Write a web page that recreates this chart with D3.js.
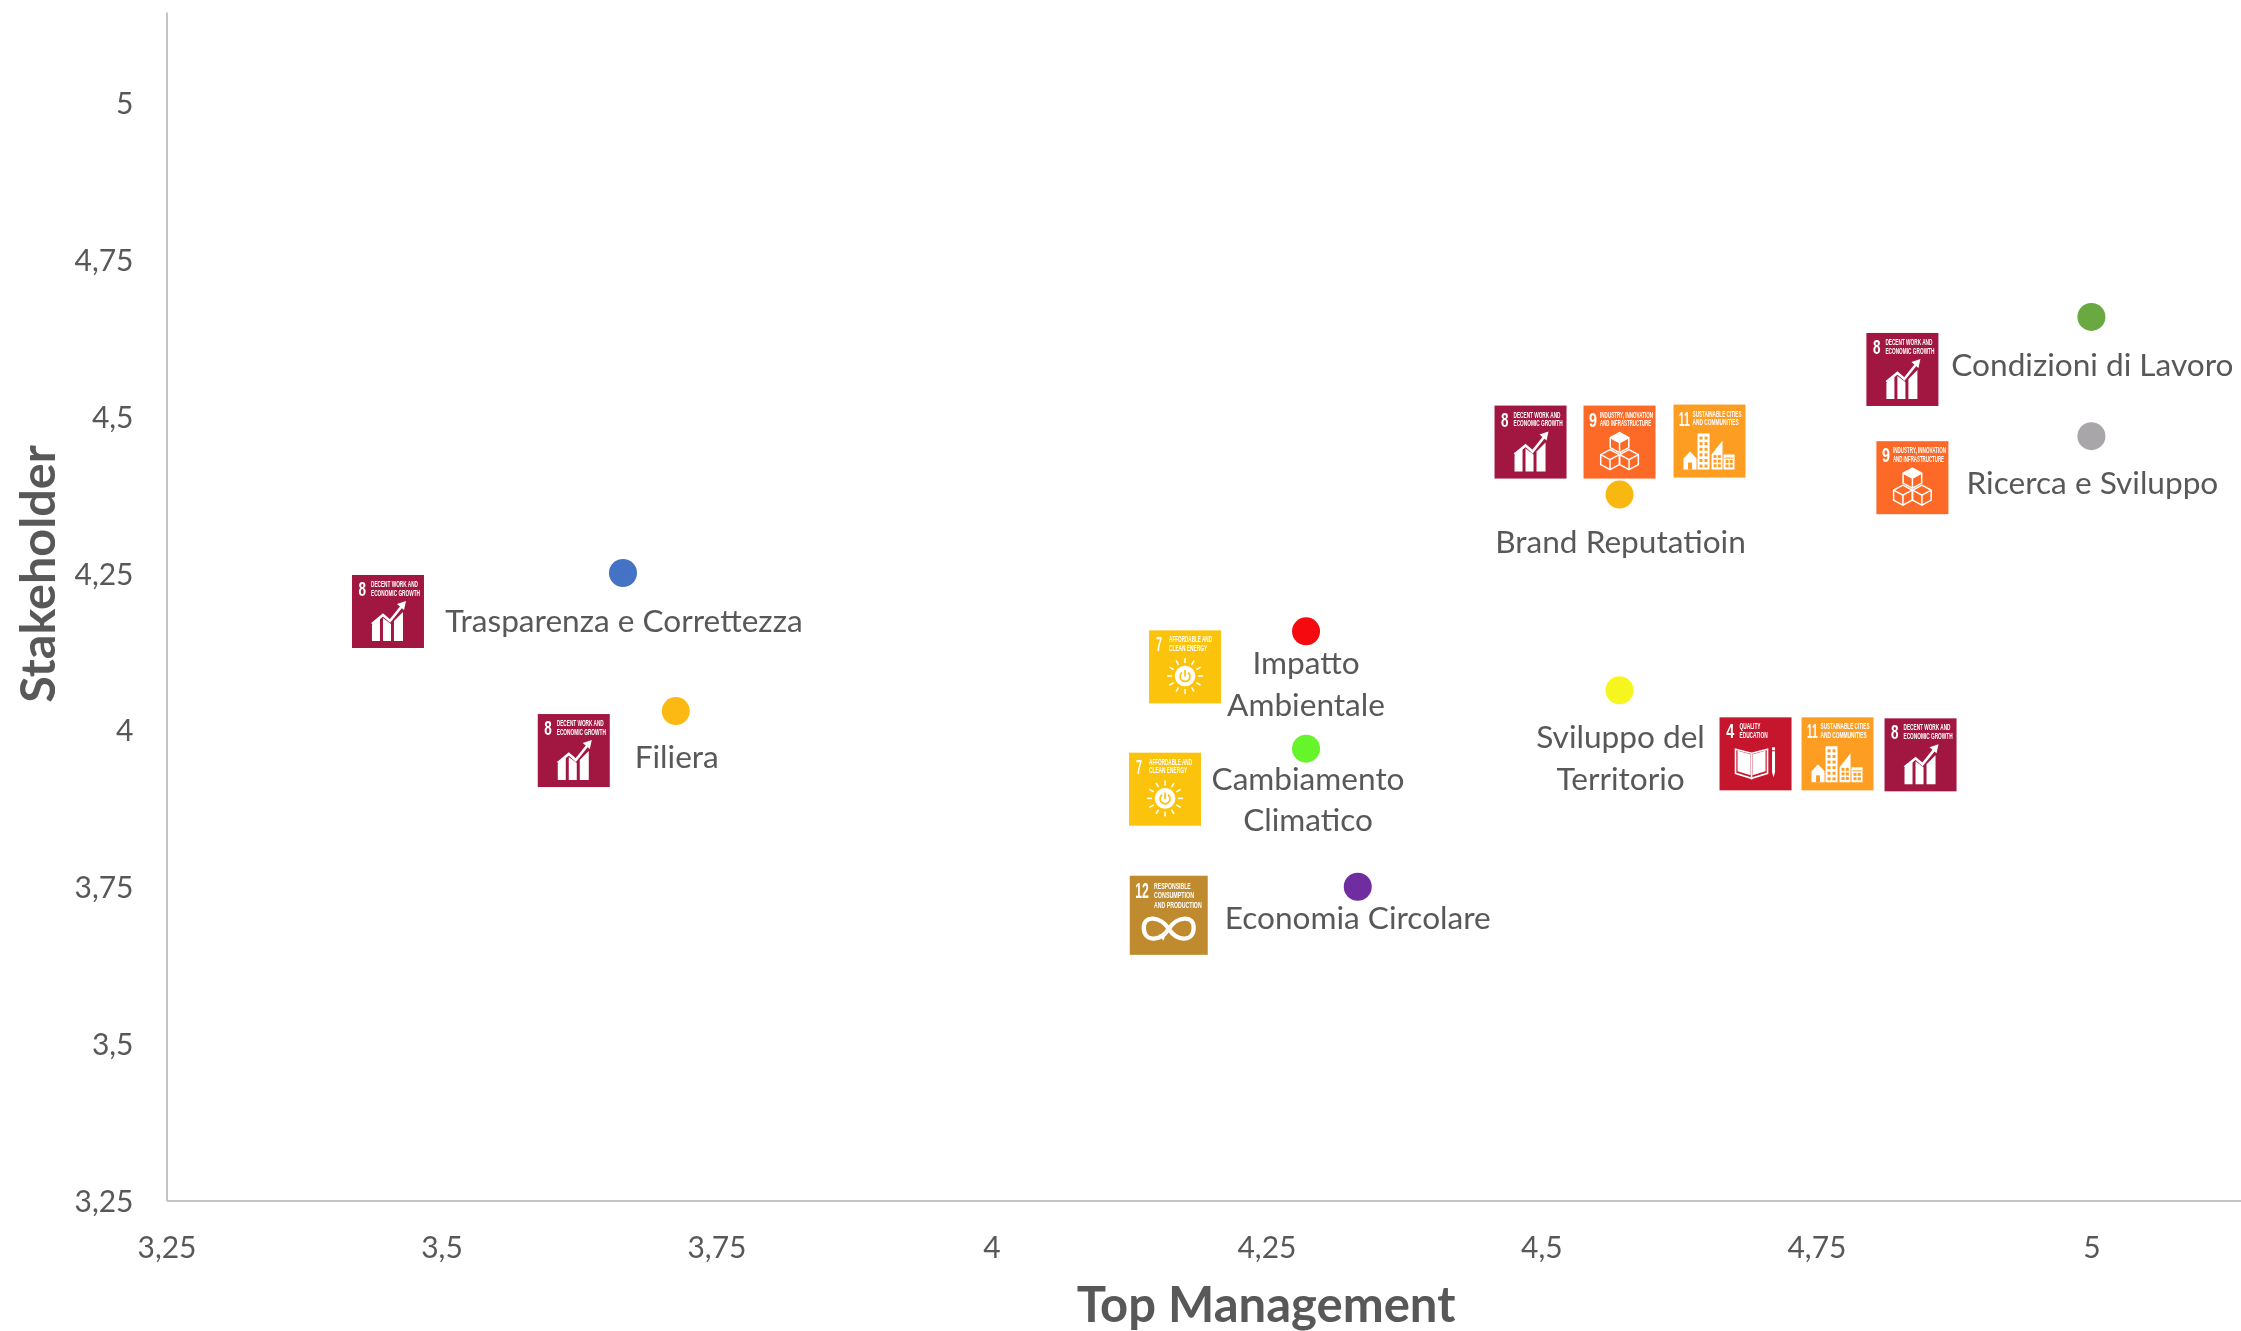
<!DOCTYPE html>
<html><head><meta charset="utf-8">
<script src="https://cdn.jsdelivr.net/npm/d3@7/dist/d3.min.js"></script>
<style>
html,body{margin:0;padding:0;background:#fff;overflow:hidden}
svg{display:block}
text{font-family:Lato,"Noto Sans",sans-serif}
</style></head><body>
<script>
// ---- data ----
const topics = ["Condizioni di Lavoro","Ricerca e Sviluppo","Brand Reputatioin","Trasparenza e Correttezza","Filiera","Impatto Ambientale","Cambiamento Climatico","Economia Circolare","Sviluppo del Territorio"];
const topManagement = [5,5,4.571,3.665,3.713,4.286,4.286,4.333,4.571];
const stakeholder = [4.658,4.468,4.375,4.25,4.03,4.157,3.97,3.75,4.063];
const topicColors = ["#6aa842","#a8a6a8","#f8b80f","#4472c4","#fdb913","#f40a0f","#66f52a","#6f2da0","#f6f61e"];
const topicGoals = [[8],[9],[8,9,11],[8],[8],[7],[7],[12],[4,11,8]];
const xTicks = [3.25,3.5,3.75,4,4.25,4.5,4.75,5];
const yTicks = [3.25,3.5,3.75,4,4.25,4.5,4.75,5];
const goalNames = {
  4:["QUALITY","EDUCATION"],
  7:["AFFORDABLE AND","CLEAN ENERGY"],
  8:["DECENT WORK AND","ECONOMIC GROWTH"],
  9:["INDUSTRY, INNOVATION","AND INFRASTRUCTURE"],
  11:["SUSTAINABLE CITIES","AND COMMUNITIES"],
  12:["RESPONSIBLE","CONSUMPTION","AND PRODUCTION"]
};
const goalColors = {4:"#c5192d",7:"#fcc30b",8:"#a21942",9:"#fd6925",11:"#fd9d24",12:"#bf8b2e"};

// ---- layout (annotation offsets from each marker, px) ----
const W = 2241, H = 1331;
const labelLines = [["Condizioni di Lavoro"],["Ricerca e Sviluppo"],["Brand Reputatioin"],["Trasparenza e Correttezza"],["Filiera"],["Impatto","Ambientale"],["Cambiamento","Climatico"],["Economia Circolare"],["Sviluppo del","Territorio"]];
const labelDy = [48,47,47,48,46,32,30,31,47];
const labelDx = [1,1,1,1,1,0,2,0,1];
const iconOffsets = [[[-225,16]],[[-215,5]],[[-125,-89],[-36,-89],[54,-90]],[[-271,2]],[[-138,3]],[[-157,-1]],[[-177,4]],[[-228,-11]],[[100,27],[182,27],[265,28]]];
const iconSize = g => g===12 ? 78 : 72;

const svg = d3.select("body").append("svg").attr("width",W).attr("height",H).attr("viewBox",`0 0 ${W} ${H}`);
svg.append("rect").attr("width",W).attr("height",H).attr("fill","#fff");
const defs = svg.append("defs");
defs.append("filter").attr("id","soft").append("feGaussianBlur").attr("stdDeviation",0.5);

const x = d3.scaleLinear().domain([3.25,5.136]).range([166.5,2241]);
const y = d3.scaleLinear().domain([3.25,5.144]).range([1200.5,12]);
const comma = v => String(v).replace(".",",");

const gx = svg.append("g").attr("transform",`translate(0,${y(3.25)})`)
  .call(d3.axisBottom(x).tickValues(xTicks).tickFormat(comma).tickSize(0).tickPadding(32));
const gy = svg.append("g").attr("transform",`translate(${x(3.25)},0)`)
  .call(d3.axisLeft(y).tickValues(yTicks).tickFormat(comma).tickSize(0).tickPadding(33));
[gx,gy].forEach(g=>{
  g.select(".domain").attr("stroke","#c4c4c4").attr("stroke-width",2);
  g.selectAll("text").attr("fill","#595959").style("font-size","30px").style("font-family","Lato,sans-serif").attr("filter","url(#soft)");
});
gx.selectAll("text").attr("dy","0.85em");
gy.selectAll("text").attr("dy","0.37em");

svg.append("text").attr("x",1266).attr("y",1322).attr("text-anchor","middle")
  .attr("fill","#595959").attr("font-weight",700).style("font-size","49px").attr("filter","url(#soft)").text("Top Management");
svg.append("text").attr("transform","translate(55,574) rotate(-90)").attr("text-anchor","middle")
  .attr("fill","#595959").attr("font-weight",700).style("font-size","48.5px").attr("filter","url(#soft)").text("Stakeholder");

// ---- goal icon glyphs, drawn in a 72-unit box ----
function cube(g,cx,top,col,fillTop){
  const w=9.3,h=5,b=20;
  g.append("path").attr("d",`M${cx} ${top}L${cx+w} ${top+h}V${top+b-h}L${cx} ${top+b}L${cx-w} ${top+b-h}V${top+h}Z`)
    .attr("fill",col).attr("stroke","#fff").attr("stroke-width",1.5).attr("stroke-linejoin","round");
  g.append("path").attr("d",`M${cx-w} ${top+h}L${cx} ${top+2*h}L${cx+w} ${top+h}M${cx} ${top+2*h}V${top+b}`)
    .attr("fill","none").attr("stroke","#fff").attr("stroke-width",1.5);
  if(fillTop) g.append("path").attr("d",`M${cx} ${top}L${cx+w} ${top+h}L${cx} ${top+2*h}L${cx-w} ${top+h}Z`).attr("fill","#fff");
}
const glyphs = {
  8(g){
    g.append("path").attr("fill","#fff").attr("d","M20 50L28 43V66H20ZM31 43L39 49V66H31ZM42 46L51 37V66H42Z");
    g.append("path").attr("fill","none").attr("stroke","#fff").attr("stroke-width",2.6).attr("d","M20 49L31 40L38 46L50 31");
    g.append("path").attr("fill","#fff").attr("d","M54 26L45 29L52 35Z");
  },
  9(g){ const c=goalColors[9]; cube(g,36,27,c,true); cube(g,26.5,44,c,false); cube(g,45.5,44,c,false); },
  11(g){
    const c=goalColors[11];
    g.append("path").attr("fill","#fff").attr("d","M24 29H36V65H24ZM10 65V54L16.5 47L23 54V65ZM38 65V50L49 36V65ZM50 50H61V65H50Z");
    for(let r=0;r<6;r++) for(let k=0;k<2;k++) g.append("rect").attr("x",26+k*5).attr("y",32+r*5.6).attr("width",3).attr("height",3).attr("fill",c);
    for(let r=0;r<3;r++) for(let k=0;k<2;k++) g.append("rect").attr("x",40+k*4.3).attr("y",50.5+r*4.6).attr("width",3).attr("height",3).attr("fill",c);
    g.append("rect").attr("x",51).attr("y",53).attr("width",9).attr("height",1).attr("fill",c);
    for(let r=0;r<2;r++) for(let k=0;k<2;k++) g.append("rect").attr("x",52+k*4.2).attr("y",55.5+r*4.4).attr("width",3).attr("height",3).attr("fill",c);
    g.append("rect").attr("x",14.5).attr("y",58).attr("width",4).attr("height",7).attr("fill",c);
  },
  7(g){
    const c=goalColors[7], cx=36, cy=45.7;
    d3.range(12).forEach(i=>{
      const a=i*Math.PI/6;
      g.append("line").attr("x1",cx+13*Math.cos(a)).attr("y1",cy+13*Math.sin(a)).attr("x2",cx+18*Math.cos(a)).attr("y2",cy+18*Math.sin(a)).attr("stroke","#fff").attr("stroke-width",1.5);
    });
    g.append("circle").attr("cx",cx).attr("cy",cy).attr("r",10.3).attr("fill","#fff");
    g.append("path").attr("d",`M${cx-3} ${cy-3.6}A5 5 0 1 0 ${cx+3} ${cy-3.6}`).attr("fill","none").attr("stroke",c).attr("stroke-width",1.7);
    g.append("line").attr("x1",cx).attr("x2",cx).attr("y1",cy-6).attr("y2",cy+.5).attr("stroke",c).attr("stroke-width",1.7);
  },
  12(g){
    g.append("path").attr("fill","none").attr("stroke","#fff").attr("stroke-width",4)
     .attr("d","M36 49C29 38 12 35 13 49C14 62 29 60 36 49C43 38 60 35 59 49C58 62 43 60 36 49");
    g.append("path").attr("fill","#fff").attr("d","M27 54L33 55L31 60Z");
  },
  4(g){
    g.append("path").attr("fill","none").attr("stroke","#fff").attr("stroke-width",1.6).attr("d","M16 32L32 36V61L16 56ZM48 32L32 36V61L48 56Z");
    g.append("path").attr("fill","#fff").attr("d","M18 33.5L31 37V58L18 54ZM46 33.5L33 37V58L46 54Z");
    g.append("path").attr("fill","#fff").attr("d","M52.5 34H55.5V55L54 60L52.5 55ZM52.5 30H55.5V33H52.5Z");
  }
};

// text squeezed horizontally to a target width, like the condensed icon lettering
function squeezed(g,str,tx,ty,fs,w,weight){
  const t=g.append("text").attr("fill","#fff").attr("font-weight",weight)
    .style("font-size",fs+"px").style("font-family",'"Liberation Sans Narrow","Liberation Sans",sans-serif').text(str);
  const natural=t.node().getComputedTextLength();
  t.attr("transform",`translate(${tx},${ty}) scale(${w/natural},1)`);
}

function drawIcon(goal,px,py){
  const s=iconSize(goal)/72;
  const g=svg.append("g").attr("transform",`translate(${px},${py}) scale(${s})`).attr("filter","url(#soft)");
  g.append("rect").attr("width",72).attr("height",73).attr("fill",goalColors[goal]);
  const numX={4:6.7,7:7,8:6.5,9:5.5,11:5.3,12:5}[goal], numW={4:8,7:6,8:7.5,9:8,11:11,12:12.5}[goal];
  squeezed(g,String(goal),numX,21,20,numW,700);
  const lx={4:20,7:20,8:19,9:16.5,11:19,12:22.4}[goal];
  const widths={"QUALITY":21,"EDUCATION":28,"AFFORDABLE AND":43,"CLEAN ENERGY":38,"DECENT WORK AND":47,"ECONOMIC GROWTH":49,"INDUSTRY, INNOVATION":53,"AND INFRASTRUCTURE":51,"SUSTAINABLE CITIES":49,"AND COMMUNITIES":46,"RESPONSIBLE":34,"CONSUMPTION":37,"AND PRODUCTION":44};
  goalNames[goal].forEach((t,i)=>squeezed(g,t,lx,12+i*8.7,8.4,widths[t],700));
  glyphs[goal](g);
}

// ---- marks ----
topics.forEach((t,i)=>{
  const cx=x(topManagement[i]), cy=y(stakeholder[i]);
  topicGoals[i].forEach((goal,k)=>{
    const [dx,dy]=iconOffsets[i][k];
    drawIcon(goal,cx+dx,cy+dy);
  });
});
svg.selectAll("circle.pt").data(topics).join("circle").attr("class","pt")
  .attr("cx",(d,i)=>x(topManagement[i])).attr("cy",(d,i)=>y(stakeholder[i])).attr("r",14)
  .attr("fill",(d,i)=>topicColors[i]);
topics.forEach((t,i)=>{
  const cx=x(topManagement[i]), cy=y(stakeholder[i]);
  labelLines[i].forEach((line,k)=>{
    svg.append("text").attr("x",cx+labelDx[i]).attr("y",cy+labelDy[i]+k*41.5+11).attr("text-anchor","middle")
      .attr("fill","#595959").style("font-size","31.6px").attr("filter","url(#soft)").text(line);
  });
});
</script></body></html>
